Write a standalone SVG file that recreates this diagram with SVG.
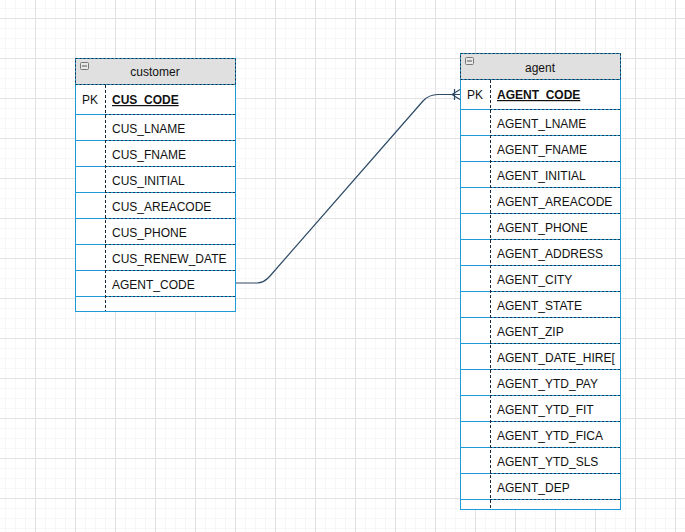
<svg xmlns="http://www.w3.org/2000/svg" width="685" height="532" viewBox="0 0 685 532">
<defs>
<pattern id="minor" width="10" height="10" patternUnits="userSpaceOnUse" x="5" y="8">
<path d="M0 0.5H10M0.5 0V10" stroke="#f7f7f7" stroke-width="1" fill="none"/>
</pattern>
<pattern id="major" width="40" height="40" patternUnits="userSpaceOnUse" x="35" y="18">
<path d="M0 0.5H40M0.5 0V40" stroke="#e2e2e2" stroke-width="1" fill="none"/>
</pattern>
</defs>
<style>
text{font-family:"Liberation Sans",Arial,sans-serif;font-size:12px;fill:#111}
.title{text-anchor:middle}
.pk{font-weight:bold;text-decoration:underline}
.outer{fill:#fff;stroke:#1f9ad6;stroke-width:1}
.hdr{fill:#e0e0e0;stroke:#1f9ad6;stroke-width:1}
.hdrd{fill:none;stroke:#1b2a3a;stroke-width:1;stroke-dasharray:2 2}
.row{stroke:#1f9ad6;stroke-width:1}
.rowd{stroke:#123a5a;stroke-width:1;stroke-dasharray:2 2}
.div{stroke:#1b2a3a;stroke-width:1;stroke-dasharray:3 2}
.icon{fill:#e8e8e8;stroke:#777;stroke-width:1}
.conn{fill:none;stroke:#2e4a66;stroke-width:1.2}
</style>
<rect width="685" height="532" fill="#fff"/>
<rect width="685" height="532" fill="url(#minor)"/>
<rect width="685" height="532" fill="url(#major)"/>

<g id="customer">
<rect class="outer" x="75.5" y="58.5" width="160" height="253"/>
<rect class="hdr" x="75.5" y="58.5" width="160" height="26"/>
<rect class="hdrd" x="75.5" y="58.5" width="160" height="26"/>
<rect class="icon" x="80.5" y="62.5" width="8" height="7" rx="1"/>
<line x1="82" y1="66" x2="87" y2="66" stroke="#555"/>
<text class="title" x="155" y="76">customer</text>
<g>
<line class="row" x1="76" y1="114.5" x2="235" y2="114.5"/>
<line class="row" x1="76" y1="140.5" x2="235" y2="140.5"/>
<line class="row" x1="76" y1="166.5" x2="235" y2="166.5"/>
<line class="row" x1="76" y1="192.5" x2="235" y2="192.5"/>
<line class="row" x1="76" y1="218.5" x2="235" y2="218.5"/>
<line class="row" x1="76" y1="244.5" x2="235" y2="244.5"/>
<line class="row" x1="76" y1="270.5" x2="235" y2="270.5"/>
<line class="row" x1="76" y1="296.5" x2="235" y2="296.5"/>
<line class="rowd" x1="105" y1="114.5" x2="235" y2="114.5"/>
<line class="rowd" x1="105" y1="140.5" x2="235" y2="140.5"/>
<line class="rowd" x1="105" y1="166.5" x2="235" y2="166.5"/>
<line class="rowd" x1="105" y1="192.5" x2="235" y2="192.5"/>
<line class="rowd" x1="105" y1="218.5" x2="235" y2="218.5"/>
<line class="rowd" x1="105" y1="244.5" x2="235" y2="244.5"/>
<line class="rowd" x1="105" y1="270.5" x2="235" y2="270.5"/>
<line class="rowd" x1="105" y1="296.5" x2="235" y2="296.5"/>
<line class="div" x1="105.5" y1="85" x2="105.5" y2="311"/>
</g>
<text x="82" y="104">PK</text>
<text class="pk" x="112" y="104">CUS_CODE</text>
<text x="112" y="133">CUS_LNAME</text>
<text x="112" y="159">CUS_FNAME</text>
<text x="112" y="185">CUS_INITIAL</text>
<text x="112" y="211">CUS_AREACODE</text>
<text x="112" y="237">CUS_PHONE</text>
<text x="112" y="263">CUS_RENEW_DATE</text>
<text x="112" y="289">AGENT_CODE</text>
</g>

<g id="agent">
<rect class="outer" x="460.5" y="53.5" width="160" height="456"/>
<rect class="hdr" x="460.5" y="53.5" width="160" height="26"/>
<rect class="hdrd" x="460.5" y="53.5" width="160" height="26"/>
<rect class="icon" x="465.5" y="57.5" width="8" height="7" rx="1"/>
<line x1="467" y1="61" x2="472" y2="61" stroke="#555"/>
<text class="title" x="540" y="72">agent</text>
<g>
<line class="row" x1="461" y1="109.5" x2="620" y2="109.5"/>
<line class="row" x1="461" y1="135.5" x2="620" y2="135.5"/>
<line class="row" x1="461" y1="161.5" x2="620" y2="161.5"/>
<line class="row" x1="461" y1="187.5" x2="620" y2="187.5"/>
<line class="row" x1="461" y1="213.5" x2="620" y2="213.5"/>
<line class="row" x1="461" y1="239.5" x2="620" y2="239.5"/>
<line class="row" x1="461" y1="265.5" x2="620" y2="265.5"/>
<line class="row" x1="461" y1="291.5" x2="620" y2="291.5"/>
<line class="row" x1="461" y1="317.5" x2="620" y2="317.5"/>
<line class="row" x1="461" y1="343.5" x2="620" y2="343.5"/>
<line class="row" x1="461" y1="369.5" x2="620" y2="369.5"/>
<line class="row" x1="461" y1="395.5" x2="620" y2="395.5"/>
<line class="row" x1="461" y1="421.5" x2="620" y2="421.5"/>
<line class="row" x1="461" y1="447.5" x2="620" y2="447.5"/>
<line class="row" x1="461" y1="473.5" x2="620" y2="473.5"/>
<line class="row" x1="461" y1="499.5" x2="620" y2="499.5"/>
<line class="rowd" x1="490" y1="109.5" x2="620" y2="109.5"/>
<line class="rowd" x1="490" y1="135.5" x2="620" y2="135.5"/>
<line class="rowd" x1="490" y1="161.5" x2="620" y2="161.5"/>
<line class="rowd" x1="490" y1="187.5" x2="620" y2="187.5"/>
<line class="rowd" x1="490" y1="213.5" x2="620" y2="213.5"/>
<line class="rowd" x1="490" y1="239.5" x2="620" y2="239.5"/>
<line class="rowd" x1="490" y1="265.5" x2="620" y2="265.5"/>
<line class="rowd" x1="490" y1="291.5" x2="620" y2="291.5"/>
<line class="rowd" x1="490" y1="317.5" x2="620" y2="317.5"/>
<line class="rowd" x1="490" y1="343.5" x2="620" y2="343.5"/>
<line class="rowd" x1="490" y1="369.5" x2="620" y2="369.5"/>
<line class="rowd" x1="490" y1="395.5" x2="620" y2="395.5"/>
<line class="rowd" x1="490" y1="421.5" x2="620" y2="421.5"/>
<line class="rowd" x1="490" y1="447.5" x2="620" y2="447.5"/>
<line class="rowd" x1="490" y1="473.5" x2="620" y2="473.5"/>
<line class="rowd" x1="490" y1="499.5" x2="620" y2="499.5"/>
<line class="div" x1="490.5" y1="80" x2="490.5" y2="509"/>
</g>
<text x="467" y="99">PK</text>
<text class="pk" x="497" y="99">AGENT_CODE</text>
<text x="497" y="128">AGENT_LNAME</text>
<text x="497" y="154">AGENT_FNAME</text>
<text x="497" y="180">AGENT_INITIAL</text>
<text x="497" y="206">AGENT_AREACODE</text>
<text x="497" y="232">AGENT_PHONE</text>
<text x="497" y="258">AGENT_ADDRESS</text>
<text x="497" y="284">AGENT_CITY</text>
<text x="497" y="310">AGENT_STATE</text>
<text x="497" y="336">AGENT_ZIP</text>
<text x="497" y="362">AGENT_DATE_HIRE[</text>
<text x="497" y="388">AGENT_YTD_PAY</text>
<text x="497" y="414">AGENT_YTD_FIT</text>
<text x="497" y="440">AGENT_YTD_FICA</text>
<text x="497" y="466">AGENT_YTD_SLS</text>
<text x="497" y="492">AGENT_DEP</text>
</g>

<g id="connectors">
<path class="conn" d="M236 283 L257 283 Q264 283 270 276 L423 101 Q429 94.5 438 94.5 L460 94.5"/>
<path class="conn" d="M454.5 89 V100 M452 94.5 L460 89.5 M452 94.5 L460 99.5"/>
</g>
</svg>
